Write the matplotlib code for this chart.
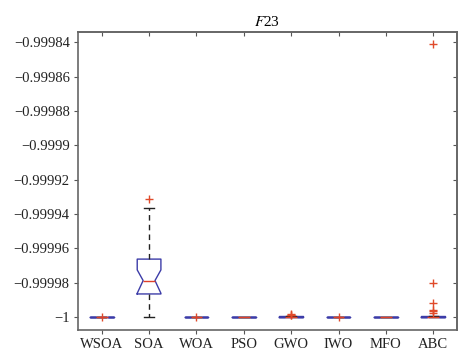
import matplotlib
matplotlib.use("Agg")
import matplotlib.pyplot as plt
from matplotlib.ticker import FuncFormatter

plt.rcParams['font.family'] = ['Liberation Serif', 'DejaVu Serif']
plt.rcParams['mathtext.fontset'] = 'stix'

# box statistics
algos = ["WSOA", "SOA", "WOA", "PSO", "GWO", "IWO", "MFO", "ABC"]
q1 = [-1.0, -0.9999866, -1.0, -1.0, -1.0, -1.0, -1.0, -1.0]
med = [-1.0, -0.9999788, -1.0, -1.0, -0.9999998, -1.0, -1.0, -0.9999998]
q3 = [-1.0, -0.9999663, -0.9999998, -1.0, -0.9999995, -1.0, -1.0, -0.9999994]
whislo = [-1.0, -0.99999995, -1.0, -1.0, -1.0, -1.0, -1.0, -1.0]
whishi = [-1.0, -0.9999364, -0.9999998, -1.0, -0.9999995, -1.0, -1.0, -0.9999994]
cilo = [-1.0, -0.9999862, -1.0, -1.0, -0.9999998, -1.0, -1.0, -0.9999998]
cihi = [-1.0, -0.9999726, -1.0, -1.0, -0.9999998, -1.0, -1.0, -0.9999998]
fliers = [
    [-1.0],
    [-0.999931],
    [-1.0],
    [],
    [-0.9999982, -0.9999986, -0.9999990],
    [-1.0],
    [],
    [-0.9998412, -0.9999804, -0.9999917, -0.9999958, -0.9999966, -0.9999975],
]

stats = []
for i in range(len(algos)):
    stats.append(dict(label=algos[i], q1=q1[i], med=med[i], q3=q3[i],
                      whislo=whislo[i], whishi=whishi[i],
                      cilo=cilo[i], cihi=cihi[i], fliers=fliers[i]))

fig = plt.figure(figsize=(4.74, 3.64), dpi=100)
ax = fig.add_axes([78/474, 34/364, (457-78)/474, (330-32)/364])

ax.bxp(stats, positions=range(1, 9), widths=0.5, shownotches=True,
       boxprops=dict(color="#3c3ca8", linewidth=1.0),
       medianprops=dict(color="#e0402a", linewidth=1.0),
       whiskerprops=dict(color="#222222", linewidth=1.0, linestyle=(0, (4, 3))),
       capprops=dict(color="#222222", linewidth=1.0),
       capwidths=0.2,
       flierprops=dict(marker="+", markeredgecolor="#e04a2a", markersize=6,
                       markeredgewidth=1.0, linestyle="none"))

ax.set_xlim(0.5, 8.5)
ax.set_ylim(-1.0000076, -0.999834)
yt = [-1.0, -0.99998, -0.99996, -0.99994, -0.99992, -0.9999, -0.99988, -0.99986, -0.99984]
ax.set_yticks(yt)
ax.yaxis.set_major_formatter(FuncFormatter(lambda v, p: ("%.6g" % v).replace("-", "\u2212")))
ax.set_xticks(range(1, 9))
ax.set_xticklabels(algos)
ax.tick_params(direction="out", labelsize=10.5,
               colors="#555555", labelcolor="#222222", length=3, pad=3)
for s in ax.spines.values():
    s.set_color("#666666")
    s.set_linewidth(1.2)

# inward ticks on the top and right edges
top = ax.secondary_xaxis("top")
top.set_xticks(range(1, 9))
top.tick_params(direction="in", length=3, colors="#555555", labeltop=False)
right = ax.secondary_yaxis("right")
right.set_yticks(yt)
right.tick_params(direction="in", length=3, colors="#555555", labelright=False)
for sa in (top, right):
    for s in sa.spines.values():
        s.set_color("#666666")
        s.set_linewidth(1.2)

ax.set_title(r"$F$23", fontsize=11, pad=4)

fig.savefig("out.png", dpi=100, facecolor="white")
